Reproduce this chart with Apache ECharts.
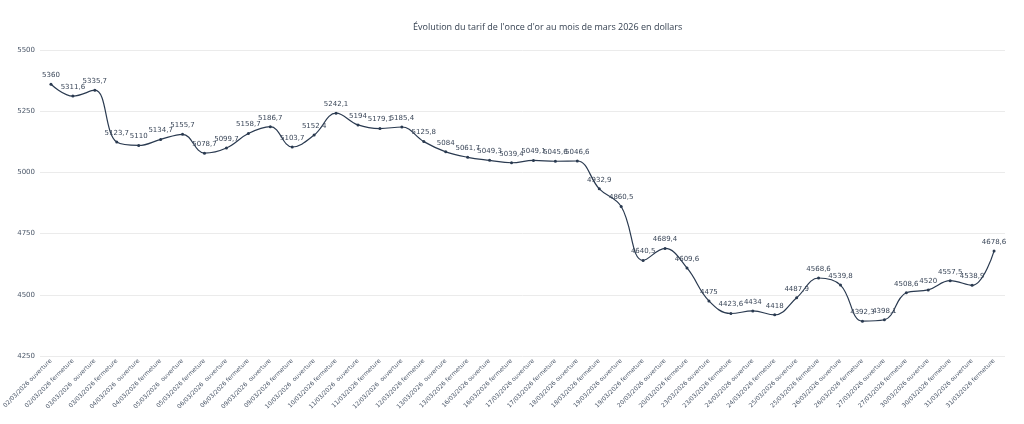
<!DOCTYPE html>
<html>
<head>
<meta charset="utf-8">
<script src="https://cdn.jsdelivr.net/npm/echarts@6/dist/echarts.min.js"></script>
<style>
  html, body { margin: 0; padding: 0; background: #fff; }
  #chart { width: 1024px; height: 424px; }
</style>
</head>
<body>
<div id="chart"></div>
<script>
// séances de mars 2026 (ouverture / fermeture)
const categories = [
  '02/03/2026 ouverture', '02/03/2026 fermeture',
  '03/03/2026  ouverture', '03/03/2026 fermeture',
  '04/03/2026  ouverture', '04/03/2026 fermeture',
  '05/03/2026  ouverture', '05/03/2026 fermeture',
  '06/03/2026  ouverture', '06/03/2026 fermeture',
  '09/03/2026  ouverture', '09/03/2026 fermeture',
  '10/03/2026  ouverture', '10/03/2026 fermeture',
  '11/03/2026  ouverture', '11/03/2026 fermeture',
  '12/03/2026  ouverture', '12/03/2026 fermeture',
  '13/03/2026  ouverture', '13/03/2026 fermeture',
  '16/03/2026 ouverture', '16/03/2026 fermeture',
  '17/03/2026 ouverture', '17/03/2026 fermeture',
  '18/03/2026 ouverture', '18/03/2026 fermeture',
  '19/03/2026 ouverture', '19/03/2026 fermeture',
  '20/03/2026 ouverture', '20/03/2026 fermeture',
  '23/03/2026 ouverture', '23/03/2026 fermeture',
  '24/03/2026 ouverture', '24/03/2026 fermeture',
  '25/03/2026 ouverture', '25/03/2026 fermeture',
  '26/03/2026 ouverture', '26/03/2026 fermeture',
  '27/03/2026 ouverture', '27/03/2026 fermeture',
  '30/03/2026 ouverture', '30/03/2026 fermeture',
  '31/03/2026 ouverture', '31/03/2026 fermeture'
]

// tarif de l'once d'or en dollars
const prices = [
  5360, 5311.6, 5335.7, 5123.7, 5110, 5134.7, 5155.7, 5078.7, 5099.7, 5158.7,
  5186.7, 5103.7, 5152.4, 5242.1, 5194, 5179.1, 5185.4, 5125.8, 5084, 5061.7,
  5049.3, 5039.4, 5049.1, 5045.6, 5046.6, 4932.9, 4860.5, 4640.5, 4689.4, 4609.6,
  4475, 4423.6, 4434, 4418, 4487.9, 4568.6, 4539.8, 4392.3, 4398.1, 4508.6,
  4520, 4557.5, 4538.9, 4678.6
]

const yMin = 4250
const yMax = 5500
const yStep = 250

const chart = echarts.init(document.getElementById('chart'))

const option = {
  animation: false,
  title: {
    text: "Évolution du tarif de l'once d'or au mois de mars 2026 en dollars",
    left: 408,
    top: 18,
    textStyle: { fontFamily: 'Open Sans', fontSize: 9, fontWeight: 'normal', color: '#333f4f' }
  },
  grid: { left: 40, right: 19, top: 50, bottom: 68 },
  xAxis: {
    type: 'category',
    data: categories,
    boundaryGap: true,
    axisLine: { show: false },
    axisTick: { show: false },
    axisLabel: {
      interval: 0,
      rotate: 45,
      margin: 4,
      fontFamily: 'DejaVu Sans',
      fontSize: 6,
      color: '#4a5668'
    }
  },
  yAxis: {
    type: 'value',
    min: yMin,
    max: yMax,
    interval: yStep,
    axisLine: { show: false },
    axisTick: { show: false },
    axisLabel: {
      fontFamily: 'DejaVu Sans',
      fontSize: 7,
      color: '#4a5668',
      margin: 5,
      formatter: v => String(v)
    },
    splitLine: { lineStyle: { color: '#ebebeb', width: 1 } }
  },
  series: [
    {
      type: 'line',
      data: prices,
      smooth: 0.4,
      symbol: 'circle',
      symbolSize: 3,
      itemStyle: { color: '#2a3a50' },
      lineStyle: { color: '#2a3a50', width: 1.2 },
      label: {
        show: true,
        position: 'top',
        distance: 4,
        fontFamily: 'DejaVu Sans',
        fontSize: 7,
        color: '#3a4658',
        formatter: p => String(p.value).replace('.', ',')
      }
    }
  ]
}

chart.setOption(option)
</script>
</body>
</html>
